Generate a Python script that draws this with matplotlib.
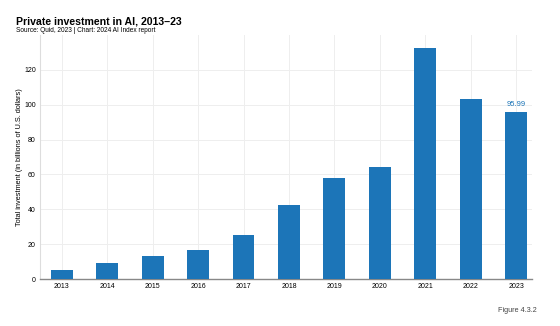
import matplotlib.pyplot as plt
import numpy as np

plt.rcParams['font.family'] = ['Liberation Sans', 'DejaVu Sans']

years = ['2013', '2014', '2015', '2016', '2017', '2018', '2019', '2020', '2021', '2022', '2023']
investment = [5.0, 9.3, 13.2, 16.8, 25.4, 42.6, 58.2, 64.1, 132.4, 103.4, 95.99]

bar_color = '#1c75b8'

fig = plt.figure(figsize=(5.6, 3.26), dpi=100)
ax = fig.add_axes([40 / 560, 47 / 326, 492 / 560, 244 / 326])

x = np.arange(len(years))
ax.bar(x, investment, width=0.48, color=bar_color, zorder=3)
ax.text(x[-1], investment[-1] + 2, f'{investment[-1]:.2f}', ha='center', va='bottom',
        fontsize=5.5, color=bar_color)

ax.set_xticks(x)
ax.set_xticklabels(years, fontsize=5)
ax.set_yticks(np.arange(0, 121, 20))
ax.set_yticklabels([str(v) for v in range(0, 121, 20)], fontsize=5)
ax.set_xlim(-0.48, 10.35)
ax.set_ylim(0, 140)
ax.set_ylabel('Total investment (in billions of U.S. dollars)', fontsize=5.3)
ax.yaxis.set_label_coords(-0.034, 0.5)
ax.tick_params(length=0, pad=3)
ax.grid(True, color='#eeeeee', linewidth=0.7, zorder=0)
for s in ['top', 'right']:
    ax.spines[s].set_visible(False)
ax.spines['left'].set_color('#dddddd')
ax.spines['bottom'].set_color('#888888')
ax.spines['bottom'].set_linewidth(1)

fig.text(16 / 560, 1 - 21 / 326, 'Private investment in AI, 2013–23', fontsize=7.6,
         fontweight='bold', va='center')
fig.text(16 / 560, 1 - 31 / 326, 'Source: Quid, 2023 | Chart: 2024 AI Index report',
         fontsize=4.7, va='center')
fig.text(537 / 560, 1 - 311 / 326, 'Figure 4.3.2', fontsize=5.2, ha='right', va='center',
         color='#444444')

fig.savefig('out.png', dpi=100)
